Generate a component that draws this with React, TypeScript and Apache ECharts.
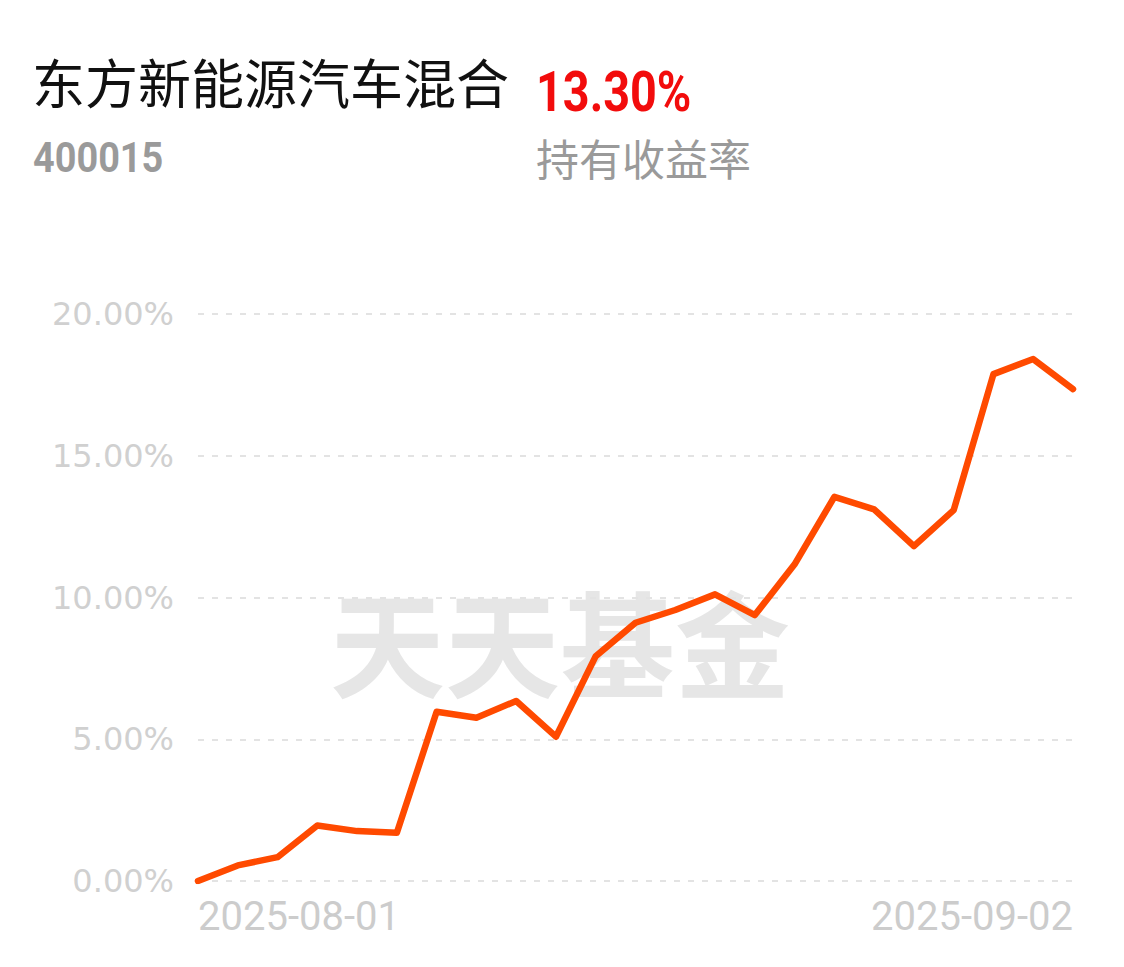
import React, { useEffect, useRef } from "react";
import * as echarts from "echarts";

const dates = [
  "2025-08-01",
  "2025-08-04", "2025-08-05", "2025-08-06", "2025-08-07", "2025-08-08",
  "2025-08-11", "2025-08-12", "2025-08-13", "2025-08-14", "2025-08-15",
  "2025-08-18", "2025-08-19", "2025-08-20", "2025-08-21", "2025-08-22",
  "2025-08-25", "2025-08-26", "2025-08-27", "2025-08-28", "2025-08-29",
  "2025-09-01", "2025-09-02",
];

const returns = [
  0.0, 0.55, 0.84, 1.96, 1.76, 1.7, 5.97, 5.76, 6.35, 5.09, 7.93, 9.11,
  9.56, 10.11, 9.38, 11.17, 13.55, 13.11, 11.81, 13.08, 17.88, 18.41, 17.35,
];

const yTicks = { min: 0, max: 20, interval: 5 };

const fundName = "东方新能源汽车混合";
const fundCode = "400015";
const holdReturn = "13.30%";
const holdLabel = "持有收益率";
const watermark = "天天基金";

export default function App() {
  const ref = useRef<HTMLDivElement>(null);

  useEffect(() => {
    if (!ref.current) return;
    const chart = echarts.init(ref.current, null, { renderer: "svg" });
    const last = dates.length - 1;
    chart.setOption({
      animation: false,
      backgroundColor: "#ffffff",
      graphic: [
        {
          type: "text",
          left: 322,
          top: 573,
          z: 0,
          silent: true,
          style: {
            text: watermark,
            font: '700 115px "Noto Sans CJK SC"',
            fill: "#e6e6e6",
          },
        },
        {
          type: "text",
          left: 24,
          top: 46,
          style: {
            text: fundName,
            font: '400 53px "Noto Sans CJK SC"',
            fill: "#111111",
          },
        },
        {
          type: "text",
          x: 528,
          y: 57,
          scaleX: 0.85,
          style: {
            text: holdReturn,
            font: "bold 55px Roboto",
            fill: "#f20c0c",
            textVerticalAlign: "top",
          },
        },
        {
          type: "text",
          x: 25,
          y: 128,
          scaleX: 0.88,
          style: {
            text: fundCode,
            font: "bold 43px Roboto",
            fill: "#9a9a9a",
            textVerticalAlign: "top",
          },
        },
        {
          type: "text",
          left: 528,
          top: 127,
          style: {
            text: holdLabel,
            font: '400 43px "Noto Sans CJK SC"',
            fill: "#9a9a9a",
          },
        },
      ],
      grid: { left: 190, right: 51, top: 306, bottom: 86, containLabel: false },
      xAxis: {
        type: "category",
        data: dates,
        boundaryGap: false,
        axisLine: { show: false },
        axisTick: { show: false },
        splitLine: { show: false },
        axisLabel: {
          interval: (i: number) => i === 0 || i === last,
          showMinLabel: true,
          showMaxLabel: true,
          alignMinLabel: "left",
          alignMaxLabel: "right",
          color: "#cccccc",
          fontFamily: "Roboto",
          fontSize: 40,
          margin: 15,
        },
      },
      yAxis: {
        type: "value",
        min: yTicks.min,
        max: yTicks.max,
        interval: yTicks.interval,
        axisLine: { show: false },
        axisTick: { show: false },
        axisLabel: {
          formatter: (v: number) => v.toFixed(2) + "%",
          color: "#d0d0d0",
          fontFamily: "DejaVu Sans",
          fontSize: 32,
          margin: 24,
        },
        splitLine: {
          show: true,
          lineStyle: { color: "#e3e3e3", type: [6, 8], width: 2 },
        },
      },
      series: [
        {
          type: "line",
          data: returns,
          symbol: "none",
          z: 5,
          lineStyle: { color: "#ff4a00", width: 6.5, join: "round", cap: "round" },
        },
      ],
    });
    return () => chart.dispose();
  }, []);

  return <div ref={ref} style={{ width: 1116, height: 959 }} />;
}
